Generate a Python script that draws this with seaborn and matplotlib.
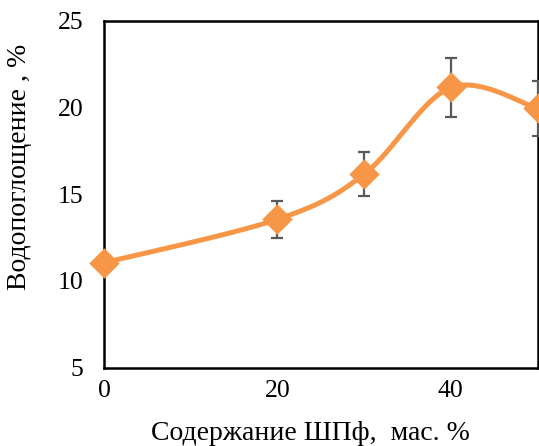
import numpy as np
import pandas as pd
import matplotlib
matplotlib.use("Agg")
import matplotlib.pyplot as plt
import seaborn as sns
from matplotlib.ticker import MultipleLocator

# Data
content = [0, 20, 30, 40, 50]
absorption = [11.05, 13.55, 16.15, 21.15, 19.95]
errors = [0.0, 1.07, 1.27, 1.68, 1.6]

x_label = "Содержание ШПф,  мас. %"
y_label = "Водопоглощение , %"

sns.set_style("white")
plt.rcParams['font.family'] = ['Liberation Serif', 'DejaVu Serif']

df = pd.DataFrame({"x": content, "y": absorption, "err": errors})

fig = plt.figure(figsize=(5.39, 4.46), dpi=100)
ax = fig.add_axes([104/539, 1 - 367.7/446, (537.5 - 104)/539, (367.7 - 20.7)/446])

# Excel-style smoothed line (Catmull-Rom Bezier through the points)
px = np.array(content, float)
py = np.array(absorption, float)
n = len(px)
sx, sy = [], []
t = np.linspace(0, 1, 60)
for i in range(n - 1):
    p0 = np.array([px[max(i - 1, 0)], py[max(i - 1, 0)]])
    p1 = np.array([px[i], py[i]])
    p2 = np.array([px[i + 1], py[i + 1]])
    p3 = np.array([px[min(i + 2, n - 1)], py[min(i + 2, n - 1)]])
    c1 = p1 + (p2 - p0) / 6
    c2 = p2 - (p3 - p1) / 6
    b = ((1 - t) ** 3)[:, None] * p1 + (3 * (1 - t) ** 2 * t)[:, None] * c1 \
        + (3 * (1 - t) * t ** 2)[:, None] * c2 + (t ** 3)[:, None] * p2
    sx.extend(b[:, 0]); sy.extend(b[:, 1])

color = "#F79646"
ax.plot(sx, sy, color=color, lw=3.6, zorder=2, solid_capstyle="round", clip_on=False)
ax.errorbar(df["x"], df["y"], yerr=df["err"], fmt="none", ecolor="#595959",
            elinewidth=1.6, capsize=4.5, capthick=1.6, zorder=3, clip_on=False)
sns.scatterplot(data=df, x="x", y="y", marker="D", s=240, color=color,
                edgecolor=color, linewidth=0, zorder=4, ax=ax, clip_on=False)

ax.set_xlim(0, 50)
ax.set_ylim(5, 25)
ax.xaxis.set_major_locator(MultipleLocator(20))
ax.xaxis.set_minor_locator(MultipleLocator(10))
ax.yaxis.set_major_locator(MultipleLocator(5))
ax.yaxis.set_minor_locator(MultipleLocator(2.5))
ax.tick_params(which="both", direction="in", length=6, width=1.6, color="black",
               labelsize=18.5, labelcolor="black")
ax.tick_params(axis="x", which="both", pad=9)
ax.tick_params(axis="y", which="both", pad=15)
for s in ax.spines.values():
    s.set_visible(True)
    s.set_color("black")
    s.set_linewidth(1.8)

ax.set_xlabel(x_label, fontsize=20, color="black")
ax.set_ylabel(y_label, fontsize=20, color="black")
ax.xaxis.set_label_coords(0.477, -0.155)
ax.yaxis.set_label_coords(-0.166, 0.578)

fig.savefig("out.png", dpi=100)
